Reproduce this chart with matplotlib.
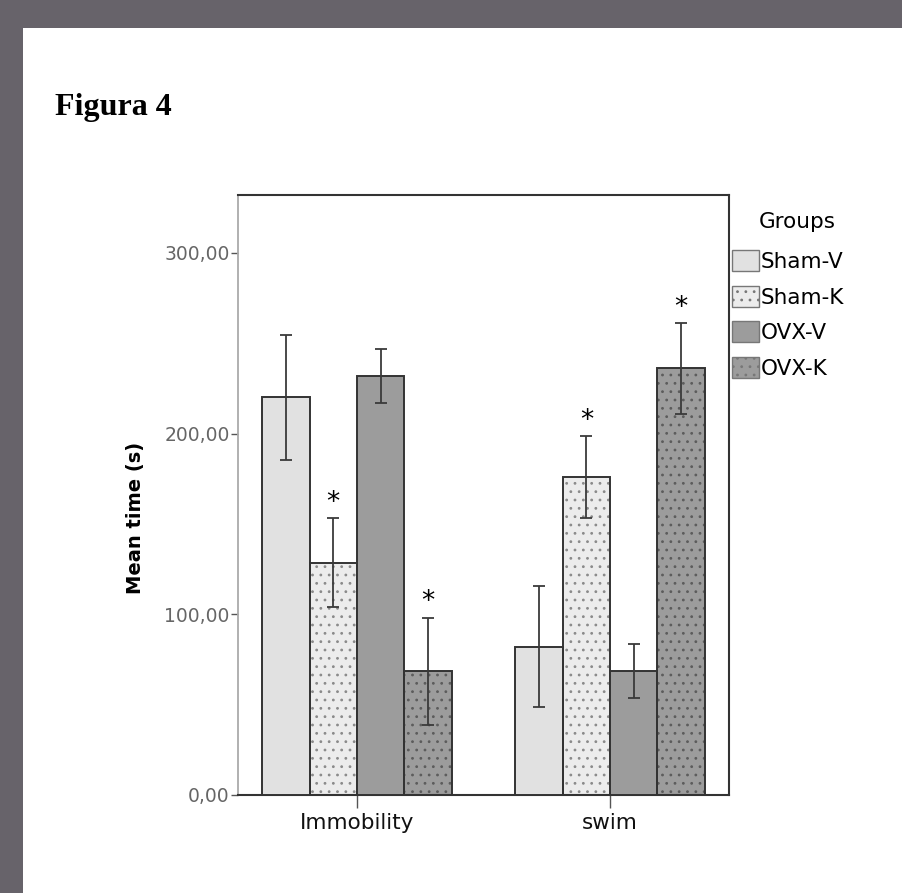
import numpy as np
import matplotlib.pyplot as plt
from matplotlib.patches import Rectangle, Patch

# data
measures = ['Immobility', 'swim']
groups = ['Sham-V', 'Sham-K', 'OVX-V', 'OVX-K']
sham_v_mean = [220.0, 82.0]
sham_k_mean = [128.5, 176.0]
ovx_v_mean = [232.0, 68.5]
ovx_k_mean = [68.5, 236.0]
sham_v_err = [34.5, 33.5]
sham_k_err = [24.5, 22.5]
ovx_v_err = [15.0, 15.0]
ovx_k_err = [29.5, 25.0]
significant = ['Sham-K', 'OVX-K']
y_ticks = [0, 100, 200, 300]
y_tick_labels = ['0,00', '100,00', '200,00', '300,00']

means = [sham_v_mean, sham_k_mean, ovx_v_mean, ovx_k_mean]
errs = [sham_v_err, sham_k_err, ovx_v_err, ovx_k_err]
fills = ['#e1e1e1', '#ececec', '#9c9c9c', '#9c9c9c']
hatches = [None, '..', None, '..']
hatch_cols = [None, '#8a8a8a', None, '#5c5c5c']

plt.rcParams['font.family'] = 'DejaVu Sans'
plt.rcParams['hatch.linewidth'] = 0.8

fig = plt.figure(figsize=(9.02, 8.93), dpi=100, facecolor='#67636a')
# white page behind everything
fig.patches.append(Rectangle((23 / 902, 0), 1, 1 - 28 / 893, transform=fig.transFigure,
                             facecolor='white', edgecolor='none', zorder=-10))
fig.text(55 / 902, 1 - 108 / 893, 'Figura 4', family='Liberation Serif', weight='bold',
         fontsize=23, va='center', ha='left')

ax = fig.add_axes([238 / 902, 1 - 795 / 893, 491 / 902, 600 / 893])
ax.set_facecolor('white')
x = np.arange(len(measures))
w = 0.187
for i, g in enumerate(groups):
    pos = x + (i - 1.5) * w
    if hatches[i]:
        ax.bar(pos, means[i], w, color=fills[i], edgecolor=hatch_cols[i], hatch=hatches[i],
               linewidth=0, zorder=2)
        ax.bar(pos, means[i], w, facecolor='none', edgecolor='#333333', linewidth=1.4, zorder=3)
    else:
        ax.bar(pos, means[i], w, color=fills[i], edgecolor='#333333', linewidth=1.4, zorder=3)
    ax.errorbar(pos, means[i], yerr=errs[i], fmt='none', ecolor='#3a3a3a', elinewidth=1.3,
                capsize=4.5, capthick=1.3, zorder=4)
    if g in significant:
        for p, m, e in zip(pos, means[i], errs[i]):
            ax.text(p, m + e + 1.5, '*', ha='center', va='bottom', fontsize=19, zorder=5)

ax.set_xlim(-0.47, 1.47)
ax.set_ylim(0, 332)
ax.set_xticks(x)
ax.set_xticklabels(measures, fontsize=15.5, color='#111111')
ax.set_yticks(y_ticks)
ax.set_yticklabels(y_tick_labels, fontsize=13.5, color='#666666')
ax.tick_params(axis='y', length=5, width=1, color='#555555', pad=1)
ax.tick_params(axis='x', length=9, width=1, color='#555555', pad=4)
ax.set_ylabel('Mean time (s)', fontsize=14, weight='bold')
ax.yaxis.set_label_coords(-0.19, 0.462)
for side in ['top', 'right', 'bottom']:
    ax.spines[side].set_color('#333333')
    ax.spines[side].set_linewidth(1.5)
ax.spines['left'].set_color('#aaaaaa')
ax.spines['left'].set_linewidth(1.3)

handles = [Patch(facecolor=fills[i], edgecolor='#777777', hatch=hatches[i], linewidth=1)
           for i in range(len(groups))]
fig.text(797 / 902, 1 - 222 / 893, 'Groups', fontsize=15.5, ha='center', va='center')
fig.legend(handles, groups, loc='upper left',
           bbox_to_anchor=(732 / 902, 1 - 250 / 893), frameon=False, fontsize=15.5,
           handlelength=1.25, handleheight=1.15, handletextpad=0.1,
           labelspacing=0.63, borderpad=0, borderaxespad=0)

fig.savefig('out.png', dpi=100, facecolor=fig.get_facecolor())
